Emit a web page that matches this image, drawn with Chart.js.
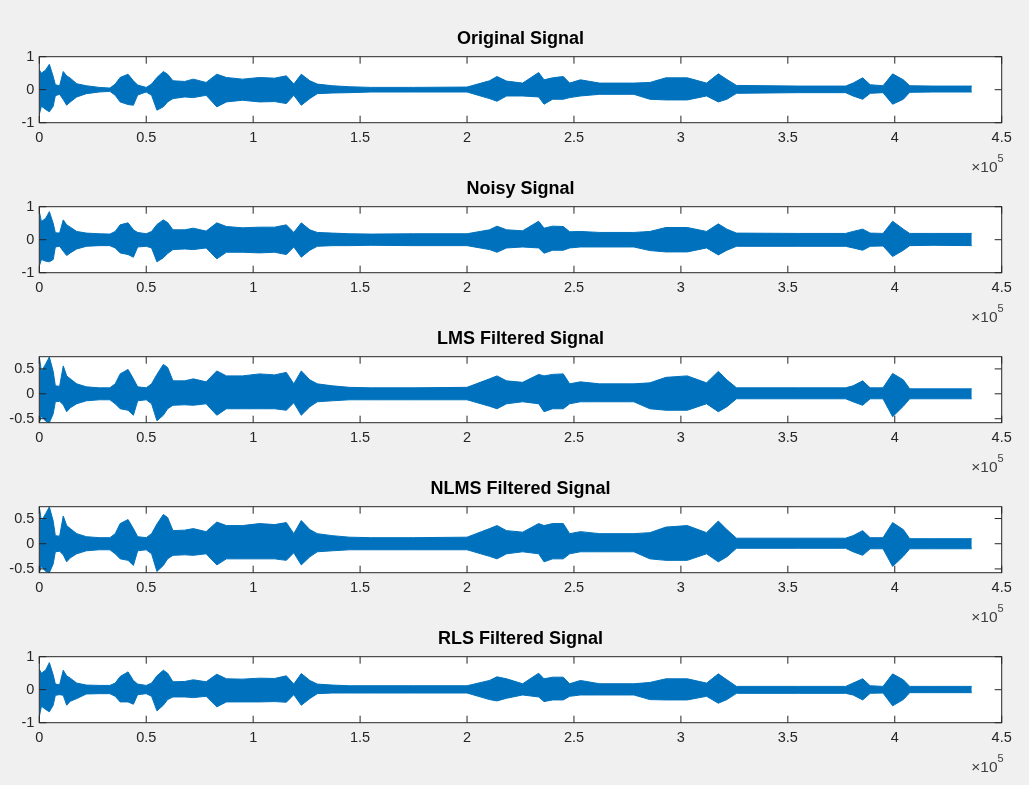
<!DOCTYPE html>
<html>
<head>
<meta charset="utf-8">
<script src="https://cdn.jsdelivr.net/npm/chart.js@4.4.0/dist/chart.umd.min.js"></script>
<style>
  body { margin: 0; background: #f0f0f0; width: 1029px; height: 785px; overflow: hidden; position: relative; }
  canvas { position: absolute; left: 0; }
</style>
</head>
<body>
<canvas id="plot0" width="1029" height="160" style="top:20px"></canvas>
<canvas id="plot1" width="1029" height="160" style="top:170px"></canvas>
<canvas id="plot2" width="1029" height="160" style="top:320px"></canvas>
<canvas id="plot3" width="1029" height="160" style="top:470px"></canvas>
<canvas id="plot4" width="1029" height="160" style="top:620px"></canvas>
<script>
const sampleIdx = [0, 1000, 3000, 4700, 6500, 7500, 9500, 11200, 12800, 14500,
  17500, 22000, 28000, 33000, 35500, 37800, 41500, 44000, 46000, 50000,
  52500, 55000, 58000, 60000, 62500, 68000, 72000, 78000, 83000, 87500,
  95000, 103000, 110000, 115500, 119000, 122500, 126500, 130000, 137000, 145000,
  155000, 175000, 200000, 210500, 214000, 218500, 226000, 233500, 236000, 240000,
  245000, 248000, 253000, 262000, 278000, 285500, 293000, 303000, 312000, 317500,
  321500, 326000, 355000, 377000, 380500, 385000, 388500, 394500, 399000, 404000,
  407000, 418000, 436000];

const titles = ['Original Signal', 'Noisy Signal', 'LMS Filtered Signal', 'NLMS Filtered Signal', 'RLS Filtered Signal'];

const origUpper = [0.6, 0.5, 0.6, 0.77, 0.4, 0.15, 0.12, 0.55, 0.42, 0.35,
  0.18, 0.12, 0.07, 0.05, 0.17, 0.37, 0.47, 0.27, 0.14, 0.07,
  0.17, 0.37, 0.55, 0.47, 0.27, 0.25, 0.32, 0.22, 0.47, 0.37,
  0.32, 0.37, 0.35, 0.42, 0.17, 0.47, 0.27, 0.17, 0.12, 0.09,
  0.07, 0.07, 0.08, 0.27, 0.4, 0.26, 0.2, 0.52, 0.3, 0.36,
  0.4, 0.2, 0.3, 0.2, 0.2, 0.22, 0.36, 0.36, 0.2, 0.48,
  0.31, 0.13, 0.11, 0.11, 0.2, 0.36, 0.15, 0.12, 0.48, 0.3,
  0.12, 0.11, 0.11];
const origLower = [-0.75, -0.5, -0.6, -0.67, -0.5, -0.18, -0.14, -0.3, -0.47, -0.37,
  -0.22, -0.12, -0.07, -0.05, -0.17, -0.37, -0.45, -0.47, -0.16, -0.07,
  -0.17, -0.62, -0.52, -0.37, -0.27, -0.22, -0.24, -0.17, -0.52, -0.37,
  -0.32, -0.37, -0.36, -0.42, -0.17, -0.47, -0.27, -0.12, -0.1, -0.09,
  -0.07, -0.07, -0.07, -0.27, -0.35, -0.19, -0.19, -0.22, -0.44, -0.29,
  -0.29, -0.24, -0.19, -0.14, -0.14, -0.29, -0.31, -0.31, -0.19, -0.37,
  -0.29, -0.11, -0.09, -0.09, -0.19, -0.29, -0.11, -0.09, -0.44, -0.29,
  -0.08, -0.07, -0.07];

const noisyUpper = [0.85, 0.55, 0.65, 0.85, 0.5, 0.21, 0.2, 0.6, 0.45, 0.38,
  0.25, 0.2, 0.18, 0.17, 0.25, 0.45, 0.51, 0.3, 0.22, 0.18,
  0.25, 0.46, 0.6, 0.52, 0.3, 0.3, 0.35, 0.26, 0.51, 0.4,
  0.36, 0.38, 0.38, 0.45, 0.22, 0.51, 0.3, 0.22, 0.2, 0.18,
  0.17, 0.18, 0.18, 0.3, 0.41, 0.3, 0.27, 0.56, 0.35, 0.41,
  0.4, 0.24, 0.25, 0.22, 0.22, 0.25, 0.37, 0.37, 0.25, 0.48,
  0.32, 0.2, 0.19, 0.19, 0.25, 0.32, 0.2, 0.19, 0.56, 0.32,
  0.19, 0.19, 0.19];
const noisyLower = [-0.8, -0.6, -0.65, -0.67, -0.6, -0.22, -0.2, -0.35, -0.48, -0.4,
  -0.28, -0.2, -0.18, -0.18, -0.25, -0.4, -0.45, -0.53, -0.22, -0.2,
  -0.25, -0.67, -0.55, -0.42, -0.3, -0.28, -0.3, -0.25, -0.58, -0.38,
  -0.38, -0.4, -0.38, -0.45, -0.22, -0.53, -0.32, -0.2, -0.18, -0.18,
  -0.17, -0.18, -0.18, -0.3, -0.38, -0.25, -0.22, -0.25, -0.41, -0.32,
  -0.32, -0.25, -0.22, -0.22, -0.22, -0.33, -0.37, -0.37, -0.25, -0.46,
  -0.32, -0.2, -0.2, -0.2, -0.25, -0.32, -0.2, -0.19, -0.51, -0.32,
  -0.18, -0.17, -0.18];

const lmsUpper = [0.74, 0.45, 0.6, 0.74, 0.45, 0.16, 0.15, 0.56, 0.36, 0.3,
  0.2, 0.14, 0.12, 0.12, 0.2, 0.4, 0.49, 0.3, 0.14, 0.12,
  0.2, 0.39, 0.59, 0.53, 0.26, 0.26, 0.3, 0.24, 0.46, 0.36,
  0.36, 0.4, 0.38, 0.43, 0.2, 0.46, 0.28, 0.2, 0.16, 0.13,
  0.12, 0.12, 0.13, 0.3, 0.36, 0.26, 0.23, 0.39, 0.36, 0.39,
  0.4, 0.2, 0.24, 0.2, 0.2, 0.22, 0.33, 0.36, 0.22, 0.45,
  0.28, 0.12, 0.12, 0.12, 0.16, 0.26, 0.12, 0.12, 0.41, 0.28,
  0.1, 0.1, 0.1];
const lmsLower = [-0.58, -0.45, -0.55, -0.58, -0.4, -0.16, -0.15, -0.22, -0.36, -0.28,
  -0.2, -0.14, -0.12, -0.12, -0.2, -0.3, -0.33, -0.43, -0.14, -0.12,
  -0.2, -0.54, -0.43, -0.3, -0.23, -0.22, -0.23, -0.2, -0.43, -0.3,
  -0.3, -0.3, -0.3, -0.33, -0.18, -0.43, -0.26, -0.16, -0.14, -0.12,
  -0.12, -0.12, -0.12, -0.25, -0.3, -0.2, -0.16, -0.2, -0.36, -0.3,
  -0.3, -0.2, -0.16, -0.16, -0.16, -0.3, -0.33, -0.33, -0.2, -0.36,
  -0.26, -0.1, -0.1, -0.1, -0.16, -0.23, -0.1, -0.1, -0.46, -0.25,
  -0.1, -0.1, -0.1];

const nlmsUpper = [0.73, 0.45, 0.6, 0.73, 0.45, 0.16, 0.15, 0.55, 0.36, 0.3,
  0.2, 0.14, 0.12, 0.12, 0.2, 0.4, 0.48, 0.3, 0.14, 0.12,
  0.2, 0.39, 0.58, 0.52, 0.26, 0.27, 0.3, 0.24, 0.43, 0.36,
  0.36, 0.4, 0.38, 0.42, 0.2, 0.46, 0.28, 0.2, 0.16, 0.13,
  0.12, 0.12, 0.13, 0.3, 0.36, 0.26, 0.23, 0.4, 0.36, 0.4,
  0.4, 0.2, 0.24, 0.2, 0.2, 0.22, 0.33, 0.36, 0.22, 0.45,
  0.28, 0.11, 0.11, 0.11, 0.16, 0.26, 0.12, 0.12, 0.42, 0.28,
  0.1, 0.1, 0.1];
const nlmsLower = [-0.575, -0.45, -0.55, -0.575, -0.4, -0.16, -0.15, -0.22, -0.36, -0.28,
  -0.2, -0.14, -0.12, -0.12, -0.2, -0.3, -0.33, -0.43, -0.14, -0.12,
  -0.2, -0.55, -0.43, -0.3, -0.23, -0.22, -0.23, -0.2, -0.42, -0.3,
  -0.3, -0.3, -0.3, -0.33, -0.18, -0.42, -0.26, -0.16, -0.14, -0.12,
  -0.12, -0.12, -0.12, -0.25, -0.3, -0.2, -0.16, -0.2, -0.36, -0.3,
  -0.3, -0.2, -0.16, -0.16, -0.16, -0.3, -0.33, -0.33, -0.2, -0.36,
  -0.26, -0.09, -0.09, -0.09, -0.16, -0.23, -0.1, -0.1, -0.45, -0.25,
  -0.1, -0.1, -0.1];

const rlsUpper = [0.62, 0.5, 0.6, 0.82, 0.45, 0.17, 0.15, 0.59, 0.42, 0.35,
  0.2, 0.14, 0.13, 0.13, 0.2, 0.4, 0.54, 0.28, 0.17, 0.13,
  0.2, 0.42, 0.59, 0.5, 0.24, 0.25, 0.3, 0.24, 0.47, 0.33,
  0.32, 0.35, 0.34, 0.42, 0.17, 0.49, 0.28, 0.17, 0.14, 0.12,
  0.12, 0.12, 0.12, 0.28, 0.39, 0.33, 0.18, 0.5, 0.33, 0.38,
  0.38, 0.18, 0.28, 0.18, 0.18, 0.22, 0.33, 0.33, 0.2, 0.48,
  0.3, 0.1, 0.1, 0.1, 0.2, 0.33, 0.12, 0.1, 0.48, 0.3,
  0.1, 0.1, 0.1];
const rlsLower = [-0.82, -0.5, -0.6, -0.67, -0.47, -0.17, -0.15, -0.17, -0.47, -0.35,
  -0.27, -0.13, -0.12, -0.12, -0.2, -0.37, -0.37, -0.44, -0.15, -0.12,
  -0.2, -0.64, -0.47, -0.3, -0.22, -0.22, -0.24, -0.2, -0.52, -0.37,
  -0.37, -0.37, -0.36, -0.38, -0.15, -0.47, -0.27, -0.12, -0.1, -0.1,
  -0.1, -0.1, -0.1, -0.3, -0.34, -0.26, -0.16, -0.22, -0.36, -0.31,
  -0.31, -0.2, -0.16, -0.16, -0.16, -0.3, -0.31, -0.31, -0.2, -0.41,
  -0.3, -0.11, -0.11, -0.11, -0.16, -0.31, -0.11, -0.1, -0.49, -0.3,
  -0.09, -0.09, -0.09];

const xTicks = [0, 50000, 100000, 150000, 200000, 250000, 300000, 350000, 400000, 450000];
const xTickLabels = ['0', '0.5', '1', '1.5', '2', '2.5', '3', '3.5', '4', '4.5'];
const yLimsFull = [-1, 1];
const yLimsLms = [-0.58, 0.745];
const yLimsNlms = [-0.575, 0.735];
const yTicksFull = [-1, 0, 1];
const yTicksHalf = [-0.5, 0, 0.5];

const FONT = 'Liberation Sans, Arial, Helvetica, sans-serif';
const AXIS = '#262626';
const BLUE = '#0072BD';
const TICK_LEN = 7;

// white plot box, inward tick marks on all four sides, x10^5 exponent
const matlabAxes = {
    id: 'matlabAxes',
    beforeDraw: chart => {
        const {ctx, chartArea: a} = chart;
        ctx.save();
        ctx.fillStyle = '#ffffff';
        ctx.fillRect(a.left, a.top, a.right - a.left, a.bottom - a.top);
        ctx.restore();
    },
    afterDatasetsDraw: chart => {
        const {ctx, chartArea: a, scales: {x, y}} = chart;
        ctx.save();
        ctx.strokeStyle = AXIS;
        ctx.lineWidth = 1;
        ctx.beginPath();
        x.ticks.forEach(t => {
            const px = x.getPixelForValue(t.value);
            ctx.moveTo(px, a.top); ctx.lineTo(px, a.top + TICK_LEN);
            ctx.moveTo(px, a.bottom); ctx.lineTo(px, a.bottom - TICK_LEN);
        });
        y.ticks.forEach(t => {
            const py = y.getPixelForValue(t.value);
            ctx.moveTo(a.left, py); ctx.lineTo(a.left + TICK_LEN, py);
            ctx.moveTo(a.right, py); ctx.lineTo(a.right - TICK_LEN, py);
        });
        ctx.stroke();
        ctx.strokeRect(a.left, a.top, a.right - a.left, a.bottom - a.top);

        ctx.fillStyle = '#404040';
        ctx.textAlign = 'right';
        ctx.textBaseline = 'alphabetic';
        ctx.font = '11px ' + FONT;
        const w5 = ctx.measureText('5').width;
        ctx.fillText('5', a.right + 2, a.bottom + 39);
        ctx.font = '15.5px ' + FONT;
        ctx.fillText('\u00d710', a.right + 2 - w5, a.bottom + 49.5);
        ctx.restore();
    }
};

const drawPlot = (id, title, upper, lower, yLims, yTicks) => {
    const ctx = document.getElementById(id).getContext('2d');
    const toPoints = vals => sampleIdx.map((s, i) => ({x: s, y: vals[i]}));
    new Chart(ctx, {
        type: 'line',
        data: {
            datasets: [{
                data: toPoints(upper),
                borderColor: BLUE,
                backgroundColor: BLUE,
                borderWidth: 1,
                pointRadius: 0,
                fill: '+1',
            }, {
                data: toPoints(lower),
                borderColor: BLUE,
                backgroundColor: BLUE,
                borderWidth: 1,
                pointRadius: 0,
                fill: false,
            }]
        },
        options: {
            responsive: false,
            animation: false,
            events: [],
            layout: {padding: {left: 0, right: 27.3, top: 0, bottom: 0}},
            plugins: {
                legend: {display: false},
                tooltip: {enabled: false},
                title: {
                    display: true,
                    fullSize: false,
                    text: title,
                    color: '#000',
                    font: {family: FONT, size: 18, weight: 'bold', lineHeight: 1},
                    padding: {top: 10.3, bottom: 8.4}
                }
            },
            scales: {
                x: {
                    type: 'linear',
                    min: 0,
                    max: 450000,
                    grid: {display: false, drawTicks: false},
                    border: {display: false},
                    afterBuildTicks: s => { s.ticks = xTicks.map(v => ({value: v})); },
                    afterFit: s => { s.height = 57.3; },
                    ticks: {
                        autoSkip: false,
                        maxRotation: 0,
                        padding: 7,
                        color: AXIS,
                        font: {family: FONT, size: 14.5},
                        callback: (v, i) => xTickLabels[i]
                    }
                },
                y: {
                    min: yLims[0],
                    max: yLims[1],
                    grid: {display: false, drawTicks: false},
                    border: {display: false},
                    afterBuildTicks: s => { s.ticks = yTicks.map(v => ({value: v})); },
                    afterFit: s => { s.width = 39.3; },
                    ticks: {
                        padding: 5,
                        color: AXIS,
                        font: {family: FONT, size: 14.5}
                    }
                }
            }
        },
        plugins: [matlabAxes]
    });
};

drawPlot('plot0', titles[0], origUpper, origLower, yLimsFull, yTicksFull);
drawPlot('plot1', titles[1], noisyUpper, noisyLower, yLimsFull, yTicksFull);
drawPlot('plot2', titles[2], lmsUpper, lmsLower, yLimsLms, yTicksHalf);
drawPlot('plot3', titles[3], nlmsUpper, nlmsLower, yLimsNlms, yTicksHalf);
drawPlot('plot4', titles[4], rlsUpper, rlsLower, yLimsFull, yTicksFull);
</script>
</body>
</html>
